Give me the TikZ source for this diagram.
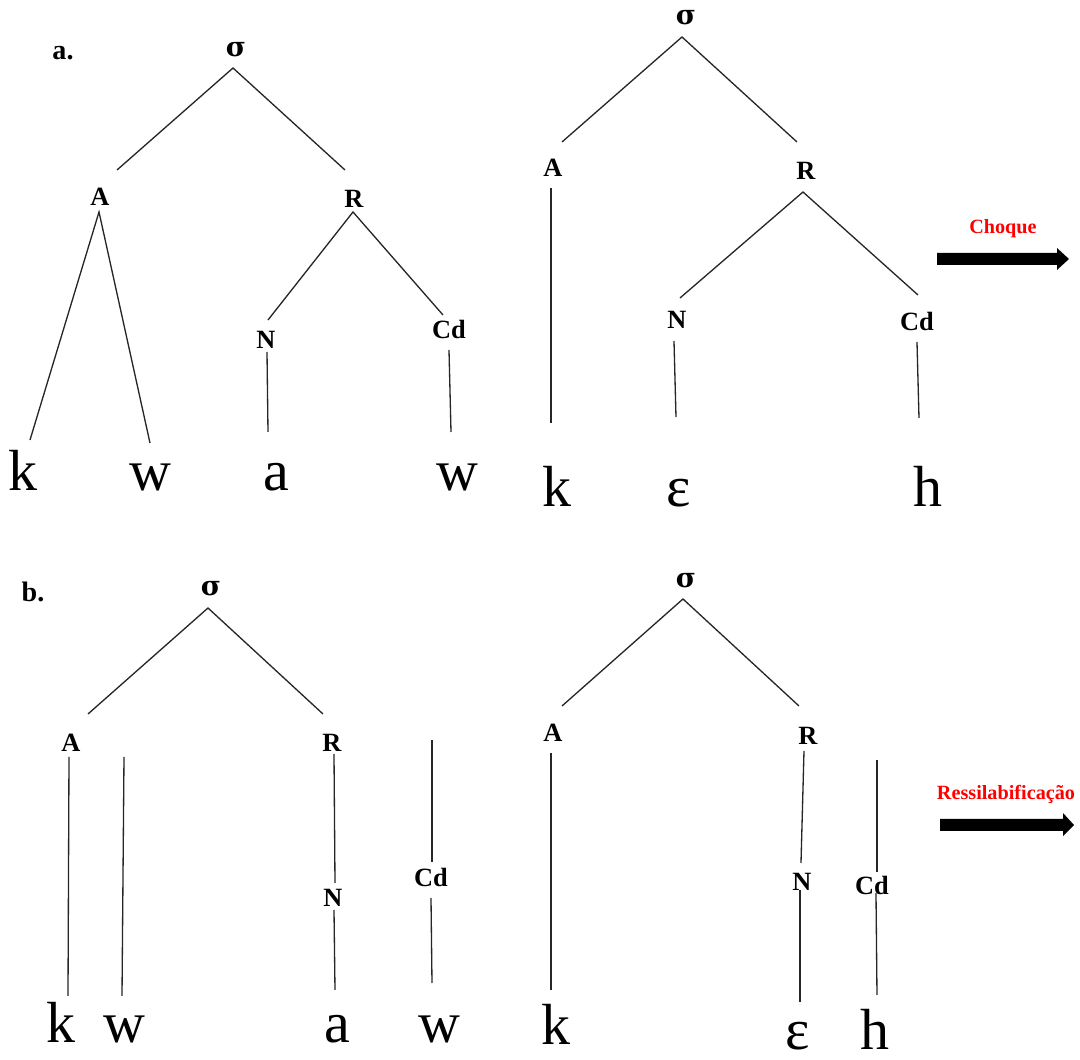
\documentclass[tikz,border=0pt]{standalone}
\usepackage{fontspec}
\setmainfont{Liberation Serif}
\newfontfamily\sigmafont{DejaVu Serif}
\begin{document}
\begin{tikzpicture}[x=0.02cm,y=-0.02cm,
  lab/.style={inner sep=0pt,font=\fontsize{15}{15}\selectfont\bfseries},
  syl/.style={inner sep=0pt,font=\sigmafont\fontsize{15.5}{15.5}\selectfont\bfseries},
  seg/.style={inner sep=0pt,anchor=base,font=\fontsize{33}{33}\selectfont},
  panel/.style={inner sep=0pt,font=\fontsize{16}{16}\selectfont\bfseries},
  proc/.style={inner sep=0pt,text=red,font=\fontsize{11.5}{11.5}\selectfont\bfseries},
  branch/.style={line width=0.75pt,draw=black!85},
  bigarrow/.style={fill=black}]
\useasboundingbox (0,0) rectangle (1080,1060);
\fill[white] (0,0) rectangle (1080,1060);

% ---------------- panel a, left tree ----------------
\node[panel] (pa) at (63,53) {a.};
\node[syl] (s1) at (236,50) {σ};
\node[lab] (A1) at (100,197) {A};
\node[lab] (R1) at (354,199) {R};
\node[lab] (N1) at (266,340) {N};
\node[lab] (C1) at (449,329) {Cd};
\node[seg] (k1) at (23,491) {k};
\node[seg] (w1) at (150,491) {w};
\node[seg] (a1) at (276,491) {a};
\node[seg] (w1b) at (457,491) {w};
\coordinate (s1b) at (233,68);
\coordinate (s1l) at (117,170);
\coordinate (s1r) at (345,170);
\coordinate (A1b) at (99,212);
\coordinate (A1l) at (30,440);
\coordinate (A1r) at (150,443);
\coordinate (R1b) at (353,212);
\coordinate (R1l) at (268,320);
\coordinate (R1r) at (443,315);
\coordinate (N1t) at (267,352);
\coordinate (N1e) at (268,432);
\coordinate (C1t) at (449,350);
\coordinate (C1e) at (451,432);
\draw[branch] (s1l) -- (s1b) -- (s1r);
\draw[branch] (A1l) -- (A1b) -- (A1r);
\draw[branch] (R1l) -- (R1b) -- (R1r);
\draw[branch] (N1t) -- (N1e);
\draw[branch] (C1t) -- (C1e);

% ---------------- panel a, right tree ----------------
\node[syl] (s2) at (686,18) {σ};
\node[lab] (A2) at (553,168) {A};
\node[lab] (R2) at (806,171) {R};
\node[lab] (N2) at (677,320) {N};
\node[lab] (C2) at (917,321) {Cd};
\node[seg] (k2) at (557,507) {k};
\node[seg] (e2) at (679,507) {ɛ};
\node[seg] (h2) at (928,507) {h};
\coordinate (s2b) at (682,37);
\coordinate (s2l) at (562,142);
\coordinate (s2r) at (797,142);
\coordinate (A2t) at (551,188);
\coordinate (A2e) at (551,423);
\coordinate (R2b) at (803,192);
\coordinate (R2l) at (680,298);
\coordinate (R2r) at (918,295);
\coordinate (N2t) at (674,341);
\coordinate (N2e) at (676,417);
\coordinate (C2t) at (917,342);
\coordinate (C2e) at (919,418);
\draw[branch] (s2l) -- (s2b) -- (s2r);
\draw[branch] (A2t) -- (A2e);
\draw[branch] (R2l) -- (R2b) -- (R2r);
\draw[branch] (N2t) -- (N2e);
\draw[branch] (C2t) -- (C2e);

\node[proc] (choque) at (1003,229) {Choque};
\fill[bigarrow] (937,253) -- (1057,253) -- (1057,248) -- (1069,259) -- (1057,270) -- (1057,265) -- (937,265) -- cycle;

% ---------------- panel b, left tree ----------------
\node[panel] (pb) at (33,592) {b.};
\node[syl] (s3) at (211,589) {σ};
\node[lab] (A3) at (71,743) {A};
\node[lab] (R3) at (332,743) {R};
\node[lab] (N3) at (333,898) {N};
\node[lab] (C3) at (431,877) {Cd};
\node[seg] (k3) at (61,1043) {k};
\node[seg] (w3) at (124,1043) {w};
\node[seg] (a3) at (337,1043) {a};
\node[seg] (w3b) at (439,1043) {w};
\coordinate (s3b) at (208,608);
\coordinate (s3l) at (88,714);
\coordinate (s3r) at (323,714);
\coordinate (A3t) at (69,757);
\coordinate (A3e) at (68,996);
\coordinate (W3t) at (124,757);
\coordinate (W3e) at (122,996);
\coordinate (R3t) at (334,754);
\coordinate (R3e) at (335,883);
\coordinate (N3t) at (334,910);
\coordinate (N3e) at (335,990);
\coordinate (C3a) at (432,740);
\coordinate (C3b) at (432,862);
\coordinate (C3t) at (431,898);
\coordinate (C3e) at (432,983);
\draw[branch] (s3l) -- (s3b) -- (s3r);
\draw[branch] (A3t) -- (A3e);
\draw[branch] (W3t) -- (W3e);
\draw[branch] (R3t) -- (R3e);
\draw[branch] (N3t) -- (N3e);
\draw[branch] (C3a) -- (C3b);
\draw[branch] (C3t) -- (C3e);

% ---------------- panel b, right tree ----------------
\node[syl] (s4) at (686,581) {σ};
\node[lab] (A4) at (553,733) {A};
\node[lab] (R4) at (808,736) {R};
\node[lab] (N4) at (802,882) {N};
\node[lab] (C4) at (872,885) {Cd};
\node[seg] (k4) at (556,1045) {k};
\node[seg] (e4) at (798,1050) {ɛ};
\node[seg] (h4) at (875,1050) {h};
\coordinate (s4b) at (683,599);
\coordinate (s4l) at (562,706);
\coordinate (s4r) at (799,706);
\coordinate (A4t) at (551,753);
\coordinate (A4e) at (551,990);
\coordinate (R4t) at (804,751);
\coordinate (R4e) at (801,863);
\coordinate (N4t) at (800,890);
\coordinate (N4e) at (800,1002);
\coordinate (C4a) at (877,760);
\coordinate (C4b) at (877,872);
\coordinate (C4t) at (876,893);
\coordinate (C4e) at (877,995);
\draw[branch] (s4l) -- (s4b) -- (s4r);
\draw[branch] (A4t) -- (A4e);
\draw[branch] (R4t) -- (R4e);
\draw[branch] (N4t) -- (N4e);
\draw[branch] (C4a) -- (C4b);
\draw[branch] (C4t) -- (C4e);

\node[proc] (ressil) at (1006,794) {Ressilabificação};
\fill[bigarrow] (940,819) -- (1063,819) -- (1063,813) -- (1074,825) -- (1063,836) -- (1063,831) -- (940,831) -- cycle;
\end{tikzpicture}
\end{document}
